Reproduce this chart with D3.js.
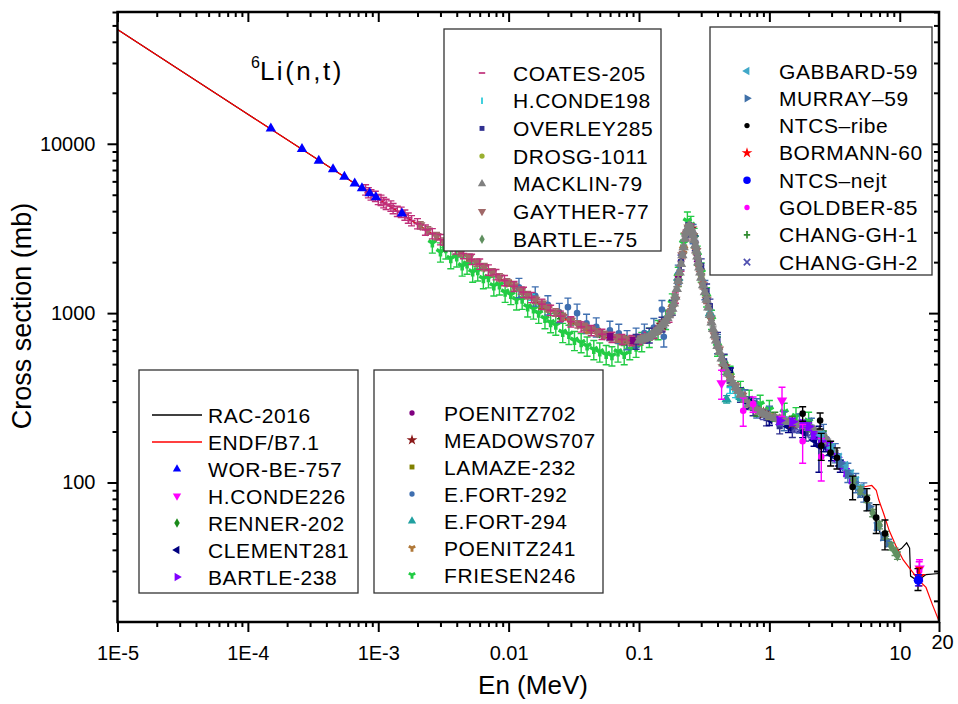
<!DOCTYPE html>
<html>
<head>
<meta charset="utf-8">
<script src="https://cdn.jsdelivr.net/npm/d3@7"></script>
<style>
  body { margin: 0; background: #fff; }
  text { font-family: "Liberation Sans", Arial, sans-serif; }
</style>
</head>
<body>
<svg id="chart" width="958" height="704"></svg>
<script>
// ---------- axis ticks ----------
const xTickValues = [1e-5, 1e-4, 1e-3, 0.01, 0.1, 1, 10, 20];
const xTickLabels = ["1E-5", "1E-4", "1E-3", "0.01", "0.1", "1", "10", "20"];
const yTickValues = [100, 1000, 10000];
const yTickLabels = ["100", "1000", "10000"];

// ---------- evaluated curves (E in MeV, cross section in mb) ----------
const endf71 = [[1e-5,47300],[3e-5,27300],[1e-4,14950],[3e-4,8640],[1e-3,4730],[3e-3,2730],[0.01,1495],[0.02,1060],
  [0.03,880],[0.05,730],[0.07,695],[0.09,690],[0.11,705],[0.13,750],[0.15,840],[0.17,960],[0.19,1230],[0.2,1530],
  [0.21,1950],[0.22,2450],[0.23,2950],[0.24,3250],[0.25,3200],[0.26,2900],[0.27,2520],[0.28,2150],[0.3,1650],
  [0.33,1200],[0.36,900],[0.4,640],[0.45,480],[0.5,410],[0.6,330],[0.8,268],[1.0,245],[1.5,226],[2.0,212],[2.5,195],
  [3.0,162],[3.5,135],[4.1,113],[4.6,99],[4.9,94],[5.3,94],[5.6,95],[6.1,96],[6.6,90],[6.9,79],[7.5,66],[8.3,52],
  [9.3,42.6],[10.6,35],[11.6,32],[14.1,26.3],[15.9,24],[17.8,19],[20,15.2]];
const rac2016 = [[1e-5,47300],[1e-4,14960],[1e-3,4730],[0.01,1490],[0.02,1060],[0.04,800],[0.07,705],[0.1,700],
  [0.13,760],[0.16,890],[0.19,1230],[0.21,1900],[0.23,2950],[0.24,3230],[0.25,3200],[0.27,2550],[0.3,1700],
  [0.35,1020],[0.4,650],[0.5,420],[0.7,290],[1.0,245],[1.5,225],[2.0,212],[2.5,195],[3.0,160],[3.5,130],[4.1,110],
  [4.7,90],[5.2,83],[5.8,72],[6.5,60],[7.1,50],[8.4,41.5],[9.5,39.5],[10.3,40.7],[11.3,44],[11.9,41],[12.1,28],
  [13.7,26.3],[15.9,28.6],[20,29]];

// ---------- measurements: [E (MeV), sigma (mb), optional absolute error] ----------
const worBe757 = [[1.5e-4,12300],[2.6e-4,9300],[3.5e-4,7950],[4.5e-4,7080],[5.5e-4,6380],[6.6e-4,5830],
  [7.5e-4,5470],[8.6e-4,5100],[9.6e-4,4830],[1.52e-3,3880]];
const hConde226 = [[0.43,385,75],[1.25,305,60],[14.2,31,4]];
const renner202 = [[0.025,965],[0.05,765],[0.08,690]];
const clement281 = [[0.5,440],[0.7,295],[1.0,236],[1.4,214],[1.8,200],[2.2,178],[2.4,165,50],[2.6,165],[3.0,146],[3.5,125]];
const bartle238 = [[1.2,232],[1.5,228],[1.8,222],[2.0,214],[2.2,190],[2.5,176],[2.9,164],[3.3,141],[3.6,126],[3.9,115],[4.3,104]];
const poenitz702 = [[0.06,726],[0.09,688],[0.14,802],[0.2,1580],[0.28,2100]];
const meadows707 = [[0.15,852],[0.25,3150],[0.45,482],[0.9,256],[1.5,224]];
const lamaze232 = [[0.005,2120],[0.01,1500],[0.018,1110],[0.03,882],[0.05,758],[0.08,692]];
const efort292 = [[0.012,1420],[0.016,1265],[0.02,1120],[0.0245,1010],[0.0285,1085],[0.0335,1000],[0.0396,872],
  [0.047,830],[0.0598,792],[0.07,760],[0.081,698],[0.095,722],[0.11,762],[0.13,822],[0.15,1050],[0.155,725],[0.2,1700],
  [0.26,2950],[0.32,1380],[0.4,662],[0.5,422],[0.65,312],[0.8,276],[1.0,250],[1.3,232],[1.7,225],[2.1,212],[2.6,195],
  [3.2,150],[4.0,115],[4.6,100],[5.3,88]];
const efort294 = [[0.12,740],[0.2,1620],[0.35,1000],[0.47,310],[0.6,320],[0.9,255],[1.3,232]];
const poenitz241 = [[0.02,1070],[0.04,800],[0.07,710],[0.1,700],[0.14,790],[0.18,1080],[0.22,2400]];
const friesen246 = [[0.0026,2600],[0.003,2300],[0.0033,2400],[0.0036,2100],[0.004,2150],[0.0044,1900],[0.0048,1950],
  [0.0053,1750],[0.0058,1780],[0.0064,1600],[0.007,1620],[0.0077,1450],[0.0085,1470],[0.0094,1330],[0.0104,1290],
  [0.0115,1200],[0.0127,1210],[0.014,1090],[0.0155,1060],[0.017,1000],[0.019,930],[0.021,880],[0.023,850],[0.026,770],
  [0.029,750],[0.032,690],[0.036,670],[0.04,640],[0.045,610],[0.05,590],[0.056,570],[0.062,560],[0.069,590],[0.077,570],
  [0.085,610],[0.095,630],[0.105,680],[0.12,720],[0.14,800],[0.16,920],[0.18,1150],[0.2,1650],[0.22,2600],[0.235,3500],
  [0.25,3300],[0.265,2800],[0.28,2200],[0.3,1750],[0.33,1250],[0.36,920],[0.4,640],[0.45,500],[0.5,430],[0.6,350],
  [0.7,310],[0.85,290],[1.0,270],[1.3,260],[1.6,245],[2.0,230]];
const coates205 = [[0.0008,5350],[0.00084,5150],[0.00088,5000],[0.00095,4900],[0.001,4700],[0.00105,4650],
  [0.0011,4500],[0.00115,4400],[0.00125,4300],[0.0013,4150],[0.0014,4000],[0.0015,3950],[0.0016,3800],[0.0017,3650],
  [0.0018,3520],[0.002,3380],[0.0023,3100],[0.0026,2950],[0.003,2720],[0.0034,2580],[0.0039,2400],[0.0045,2250],
  [0.0052,2080],[0.006,1950],[0.007,1800],[0.008,1690],[0.0093,1560],[0.011,1440],[0.013,1330],[0.015,1240],
  [0.018,1130],[0.021,1040],[0.025,960],[0.03,890],[0.036,830],[0.043,790],[0.052,750],[0.062,720],[0.074,700],
  [0.088,690],[0.1,700],[0.115,720],[0.13,760],[0.15,840],[0.17,950],[0.19,1230],[0.21,1900],[0.23,2900],[0.25,3150],
  [0.27,2450],[0.3,1700]];
const hConde198 = [[0.015,1240],[0.03,890],[0.06,720],[0.12,730],[0.5,350],[0.55,330]];
const overley285 = [[0.095,680],[0.12,740],[0.15,860],[0.18,1080],[0.21,2000],[0.24,3100],[0.27,2600],[0.3,1900],
  [0.33,1350],[0.35,1100],[0.4,700],[0.45,520],[0.5,430],[0.6,330],[0.75,275],[0.95,240],[1.2,215],[1.5,205],[1.9,195],
  [2.3,185],[2.8,160]];
const drosg1011 = [[0.2,1600],[0.3,1650],[0.5,420],[1.0,245],[2.0,212]];
const macklin79 = [[0.1,690],[0.105,698],[0.11,705],[0.115,712],[0.12,725],[0.125,742],[0.13,760],[0.135,778],
  [0.14,800],[0.145,825],[0.15,850],[0.155,872],[0.16,900],[0.165,935],[0.17,970],[0.175,1010],[0.18,1060],
  [0.185,1140],[0.19,1250],[0.195,1390],[0.2,1550],[0.205,1740],[0.21,1950],[0.215,2200],[0.22,2450],[0.225,2750],
  [0.23,2980],[0.235,3150],[0.24,3250],[0.245,3260],[0.25,3180],[0.255,3050],[0.26,2880],[0.265,2700],[0.27,2520],
  [0.275,2340],[0.28,2160],[0.285,2000],[0.29,1860],[0.295,1740],[0.3,1620],[0.31,1460],[0.32,1330],[0.33,1200],
  [0.34,1080],[0.35,975],[0.36,880],[0.37,805],[0.38,740],[0.39,690],[0.4,640],[0.415,590],[0.43,540],[0.445,505],
  [0.46,470],[0.48,440],[0.5,410],[0.525,388],[0.55,365],[0.575,347],[0.6,330],[0.65,308],[0.7,290],[0.75,278],
  [0.8,268],[0.85,261],[0.9,255],[0.95,250],[1.0,245],[1.1,240],[1.2,236],[1.3,232],[1.4,228],[1.55,224],[1.7,220],
  [1.85,215],[2.0,210],[2.2,204],[2.4,198],[2.6,188],[2.8,175],[3.0,162],[3.2,150]];
const gayther77 = [[0.0021,3300],[0.0024,3080],[0.0028,2850],[0.0032,2650],[0.0037,2460],[0.0043,2290],[0.005,2130],
  [0.0057,1990],[0.0065,1870],[0.0075,1740],[0.0085,1630],[0.0097,1520],[0.011,1440],[0.0125,1360],[0.014,1280],
  [0.016,1200],[0.018,1140],[0.02,1070],[0.023,1010],[0.026,950],[0.03,900],[0.034,860],[0.038,830],[0.043,800],
  [0.048,770],[0.054,745],[0.06,725],[0.067,712],[0.075,700],[0.082,694],[0.09,690],[0.1,698],[0.11,710],[0.12,728],
  [0.13,750],[0.145,810],[0.16,890],[0.175,1010],[0.19,1200],[0.2,1520],[0.215,2200],[0.228,2880],[0.24,3200],
  [0.26,2850],[0.275,2330],[0.29,1850],[0.31,1460],[0.33,1200],[0.355,930],[0.38,740],[0.41,610],[0.45,480],
  [0.5,408],[0.55,370],[0.62,325],[0.7,290],[0.8,266],[0.9,258],[1.05,244],[1.2,238]];
const bartle75 = [[4.4,103],[5.0,90],[5.6,80],[6.2,66],[7.0,56],[7.8,49],[8.6,42],[9.2,39],[9.6,37]];
const gabbard59 = [[2.5,190],[3.0,160],[3.4,140],[3.8,125],[4.2,112],[4.6,102],[5.0,92]];
const murray59 = [[3.5,130],[4.0,112],[4.5,100],[5.0,86],[5.8,72],[6.7,55],[7.5,48],[8.2,44]];
const ntcsRibe = [[1.8,255,25],[2.45,232,25],[2.5,165,30],[2.95,150,25],[3.3,140,20],[4.35,94,15],[5.6,80,12],
  [6.6,62,12],[7.7,50,10],[13.8,27,4]];
const bormann60 = [[14.1,28,3.5]];
const ntcsNejt = [[13.9,26.5,2]];
const goldber85 = [[0.63,265,50],[0.75,290,30],[1.8,175,45],[2.5,142,40],[14.1,30,4]];
const changGh1 = [[0.8,262],[1.1,245],[1.5,232],[2.0,215],[2.6,190]];
const changGh2 = [[0.9,250],[1.2,230],[1.6,210],[2.1,195],[2.7,175]];

// ---------- series styling (drawing order = array order) ----------
const series = [
  { name: "FRIESEN246",  data: friesen246, color: "#22cc44", shape: "wye",      rel: 0.13 },
  { name: "E.FORT-292",  data: efort292,   color: "#3f6fb0", shape: "circle",   rel: 0.13 },
  { name: "LAMAZE-232",  data: lamaze232,  color: "#808000", shape: "square",   rel: 0.04 },
  { name: "POENITZ241",  data: poenitz241, color: "#b07838", shape: "wye",      rel: 0.04 },
  { name: "RENNER-202",  data: renner202,  color: "#1a8a1a", shape: "diamond",  rel: 0.04 },
  { name: "H.CONDE198",  data: hConde198,  color: "#22c8d8", shape: "vtick",    rel: 0.04 },
  { name: "GAYTHER-77",  data: gayther77,  color: "#a06868", shape: "triDown",  rel: 0.05 },
  { name: "COATES-205",  data: coates205,  color: "#c0307a", shape: "dash",     rel: 0.07 },
  { name: "OVERLEY285",  data: overley285, color: "#303090", shape: "square",   rel: 0.10 },
  { name: "CLEMENT281",  data: clement281, color: "#000080", shape: "triLeft",  rel: 0.08 },
  { name: "CHANG-GH-2",  data: changGh2,   color: "#5050b0", shape: "x",        rel: 0.06 },
  { name: "CHANG-GH-1",  data: changGh1,   color: "#2e8b2e", shape: "plus",     rel: 0.06 },
  { name: "E.FORT-294",  data: efort294,   color: "#20a0a0", shape: "triUp",    rel: 0.05 },
  { name: "DROSG-1011",  data: drosg1011,  color: "#9ab030", shape: "circle",   rel: 0.04 },
  { name: "POENITZ702",  data: poenitz702, color: "#800080", shape: "circle",   rel: 0.04 },
  { name: "MEADOWS707",  data: meadows707, color: "#8b1a1a", shape: "star",     rel: 0.04 },
  { name: "MACKLIN-79",  data: macklin79,  color: "#808080", shape: "triUp",    rel: 0.03 },
  { name: "BARTLE-238",  data: bartle238,  color: "#8000ff", shape: "triRight", rel: 0.05 },
  { name: "GABBARD-59",  data: gabbard59,  color: "#40a8c8", shape: "triLeft",  rel: 0.05 },
  { name: "MURRAY\u201359", data: murray59, color: "#3f70a8", shape: "triRight", rel: 0.05 },
  { name: "BARTLE--75",  data: bartle75,   color: "#609060", shape: "diamond",  rel: 0.05 },
  { name: "WOR-BE-757",  data: worBe757,   color: "#0000ff", shape: "triUp",    rel: 0.0 },
  { name: "H.CONDE226",  data: hConde226,  color: "#ff00ff", shape: "triDown",  rel: 0.0 },
  { name: "GOLDBER-85",  data: goldber85,  color: "#ff00ff", shape: "circle",   rel: 0.0 },
  { name: "NTCS\u2013ribe", data: ntcsRibe, color: "#000000", shape: "circle",  rel: 0.0 },
  { name: "BORMANN-60",  data: bormann60,  color: "#ff0000", shape: "star",     rel: 0.0 },
  { name: "NTCS\u2013nejt", data: ntcsNejt, color: "#0000ff", shape: "bigCircle", rel: 0.0 }
];

// legend groupings
const legendTopMid = ["COATES-205", "H.CONDE198", "OVERLEY285", "DROSG-1011", "MACKLIN-79", "GAYTHER-77", "BARTLE--75"];
const legendTopRight = ["GABBARD-59", "MURRAY\u201359", "NTCS\u2013ribe", "BORMANN-60", "NTCS\u2013nejt", "GOLDBER-85", "CHANG-GH-1", "CHANG-GH-2"];
const legendBotLeft = ["RAC-2016", "ENDF/B7.1", "WOR-BE-757", "H.CONDE226", "RENNER-202", "CLEMENT281", "BARTLE-238"];
const legendBotMid = ["POENITZ702", "MEADOWS707", "LAMAZE-232", "E.FORT-292", "E.FORT-294", "POENITZ241", "FRIESEN246"];

// ---------- layout ----------
const frame = { left: 117.5, right: 939, top: 12, bottom: 622 };
const svg = d3.select("#chart");
const x = d3.scaleLog().domain([1e-5, 20]).range([frame.left, frame.right]);
const y = d3.scaleLog().domain([15, 60000]).range([frame.bottom, frame.top]);

svg.append("defs").append("clipPath").attr("id", "plotclip")
  .append("rect").attr("x", frame.left).attr("y", frame.top)
  .attr("width", frame.right - frame.left).attr("height", frame.bottom - frame.top);

// marker shapes (k scales the symbol for plot vs legend)
function markerPath(shape, k) {
  const a = k * k, r = 3.2 * k;
  switch (shape) {
    case "triUp": case "triDown": case "triLeft": case "triRight":
      return d3.symbol(d3.symbolTriangle, 30 * a)();
    case "circle": return d3.symbol(d3.symbolCircle, 22 * a)();
    case "bigCircle": return d3.symbol(d3.symbolCircle, 44 * a)();
    case "square": return d3.symbol(d3.symbolSquare, 24 * a)();
    case "diamond": return d3.symbol(d3.symbolDiamond, 26 * a)();
    case "star": return d3.symbol(d3.symbolStar, 36 * a)();
    case "wye": return d3.symbol(d3.symbolWye, 28 * a)();
    case "x": return `M${-r},${-r}L${r},${r}M${-r},${r}L${r},${-r}`;
    case "plus": return `M${-r},0L${r},0M0,${-r - 0.5}L0,${r + 0.5}`;
    case "dash": return `M${-r},0L${r},0`;
    case "vtick": return `M0,${-r}L0,${r}`;
  }
}
const rotation = { triDown: 180, triLeft: -90, triRight: 90 };
const strokeShapes = new Set(["x", "plus", "dash", "vtick"]);

function drawMarker(g, shape, color, cx, cy, k) {
  const p = g.append("path").attr("d", markerPath(shape, k))
    .attr("transform", `translate(${cx},${cy}) rotate(${rotation[shape] || 0})`);
  if (strokeShapes.has(shape)) p.attr("fill", "none").attr("stroke", color).attr("stroke-width", 1.7);
  else p.attr("fill", color);
}

const plot = svg.append("g").attr("clip-path", "url(#plotclip)");

// evaluated curves
const line = d3.line().x(d => x(d[0])).y(d => y(d[1]));
plot.append("path").datum(rac2016).attr("d", line).attr("fill", "none").attr("stroke", "#000").attr("stroke-width", 1.2);
plot.append("path").datum(endf71).attr("d", line).attr("fill", "none").attr("stroke", "#ff0000").attr("stroke-width", 1.2);

// measured points with error bars
series.forEach(s => {
  const g = plot.append("g");
  s.data.forEach(d => {
    const cx = x(d[0]), cy = y(d[1]);
    const err = d.length > 2 ? d[2] : d[1] * s.rel;
    if (err > 0) {
      const y0 = y(d[1] - err), y1 = y(d[1] + err);
      g.append("path")
        .attr("d", `M${cx},${y0}L${cx},${y1}M${cx - 3.5},${y0}L${cx + 3.5},${y0}M${cx - 3.5},${y1}L${cx + 3.5},${y1}`)
        .attr("stroke", s.color).attr("stroke-width", 1.4).attr("fill", "none");
    }
    drawMarker(g, s.shape, s.color, cx, cy, 1.25);
  });
});

// ---------- axes ----------
const fmt = v => xTickLabels[xTickValues.indexOf(v)];
const minorX = [];
for (let e = -5; e <= 1; e++) for (let m = 2; m <= 9; m++) { const v = m * Math.pow(10, e); if (v < 20) minorX.push(v); }
const minorY = [];
for (let e = 1; e <= 4; e++) for (let m = 2; m <= 9; m++) { const v = m * Math.pow(10, e); if (v > 15 && v <= 60000) minorY.push(v); }

function styleAxis(g) {
  g.select(".domain").remove();
  g.selectAll(".tick line").attr("stroke", "#000").attr("stroke-width", 2);
  g.selectAll(".tick text").attr("fill", "#000").style("font-size", "20px")
    .style("font-family", '"Liberation Sans", Arial, sans-serif');
}

// bottom
svg.append("g").attr("transform", `translate(0,${frame.bottom})`)
  .call(d3.axisBottom(x).tickValues(xTickValues).tickFormat(fmt).tickSize(10).tickPadding(14))
  .call(styleAxis)
  .call(g => g.selectAll(".tick text").filter(d => d === 20).attr("dy", "0.15em").attr("dx", "0.15em"));
svg.append("g").attr("transform", `translate(0,${frame.bottom})`)
  .call(d3.axisBottom(x).tickValues(minorX).tickFormat("").tickSize(5)).call(styleAxis);
// top (inward ticks)
svg.append("g").attr("transform", `translate(0,${frame.top})`)
  .call(d3.axisTop(x).tickValues(xTickValues.slice(0, 7)).tickFormat("").tickSize(-10)).call(styleAxis);
svg.append("g").attr("transform", `translate(0,${frame.top})`)
  .call(d3.axisTop(x).tickValues(minorX).tickFormat("").tickSize(-5)).call(styleAxis);
// left
svg.append("g").attr("transform", `translate(${frame.left},0)`)
  .call(d3.axisLeft(y).tickValues(yTickValues).tickFormat((v, i) => yTickLabels[i]).tickSize(10).tickPadding(12))
  .call(styleAxis);
svg.append("g").attr("transform", `translate(${frame.left},0)`)
  .call(d3.axisLeft(y).tickValues(minorY).tickFormat("").tickSize(5)).call(styleAxis);
// right (inward ticks)
svg.append("g").attr("transform", `translate(${frame.right},0)`)
  .call(d3.axisRight(y).tickValues(yTickValues).tickFormat("").tickSize(-10)).call(styleAxis);
svg.append("g").attr("transform", `translate(${frame.right},0)`)
  .call(d3.axisRight(y).tickValues(minorY).tickFormat("").tickSize(-5)).call(styleAxis);

// frame
svg.append("rect").attr("x", frame.left).attr("y", frame.top)
  .attr("width", frame.right - frame.left).attr("height", frame.bottom - frame.top)
  .attr("fill", "none").attr("stroke", "#000").attr("stroke-width", 2.5);

// axis titles
svg.append("text").attr("x", 533).attr("y", 694).attr("text-anchor", "middle")
  .style("font-size", "26px").text("En (MeV)");
svg.append("text").attr("transform", "translate(31,316) rotate(-90)").attr("text-anchor", "middle")
  .style("font-size", "27px").text("Cross section (mb)");

// reaction label
const title = svg.append("text").attr("x", 251).attr("y", 80).style("font-size", "26px");
title.append("tspan").attr("dy", "-12").style("font-size", "16px").text("6");
title.append("tspan").attr("dy", "12").style("letter-spacing", "2.5px").text("Li(n,t)");

// ---------- legends ----------
const byName = new Map(series.map(s => [s.name, s]));
const curveStyles = { "RAC-2016": "#000000", "ENDF/B7.1": "#ff0000" };

function legendBox(names, box) {
  const g = svg.append("g");
  g.append("rect").attr("x", box.x).attr("y", box.y).attr("width", box.w).attr("height", box.h)
    .attr("fill", "#fff").attr("stroke", "#333").attr("stroke-width", 1.3);
  names.forEach((n, i) => {
    const cy = box.first + i * box.step;
    if (curveStyles[n]) {
      g.append("line").attr("x1", box.lineX0).attr("x2", box.lineX1).attr("y1", cy).attr("y2", cy)
        .attr("stroke", curveStyles[n]).attr("stroke-width", 1.3);
    } else {
      const s = byName.get(n);
      drawMarker(g, s.shape, s.color, box.symX, cy, 1.0);
    }
    g.append("text").attr("x", box.textX).attr("y", cy + 7.5).style("font-size", "21px")
      .style("letter-spacing", "0.6px").text(n);
  });
}

legendBox(legendTopMid,   { x: 444, y: 29,  w: 217, h: 222, first: 73,  step: 27.7, symX: 482, textX: 513 });
legendBox(legendTopRight, { x: 710, y: 27,  w: 222, h: 248, first: 71,  step: 27.3, symX: 747, textX: 779 });
legendBox(legendBotLeft,  { x: 139, y: 370, w: 219, h: 223, first: 415, step: 27,   symX: 177, textX: 208, lineX0: 152, lineX1: 202 });
legendBox(legendBotMid,   { x: 374, y: 370, w: 229, h: 223, first: 413, step: 27,   symX: 412, textX: 444 });
</script>
</body>
</html>
